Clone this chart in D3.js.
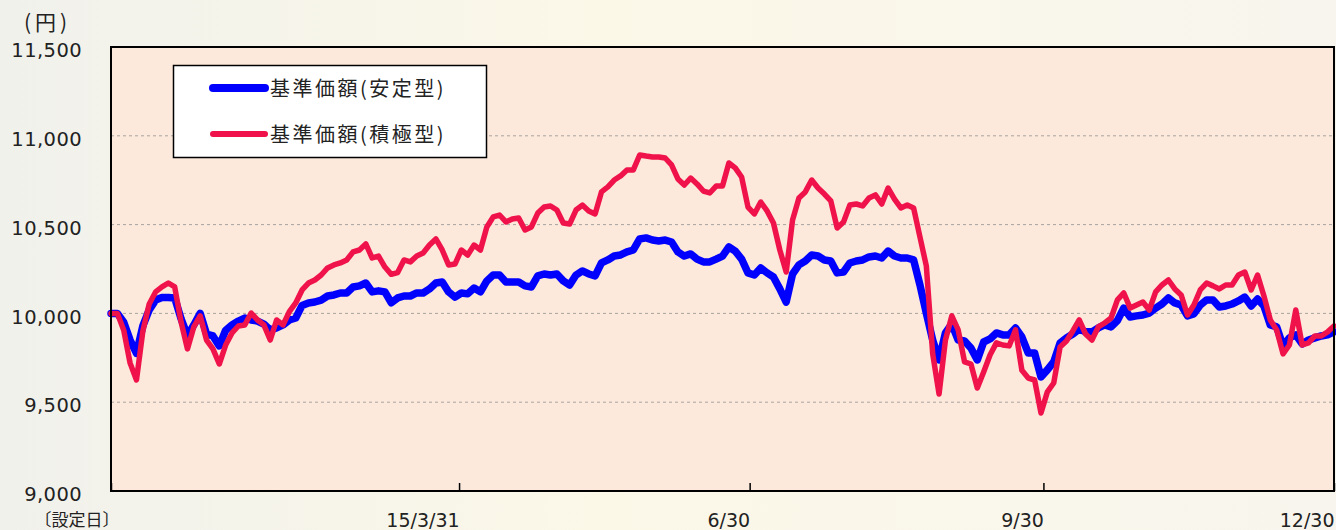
<!DOCTYPE html>
<html><head><meta charset="utf-8">
<script src="https://cdn.jsdelivr.net/npm/d3@7"></script>
<style>
html,body{margin:0;padding:0;}
body{width:1336px;height:530px;overflow:hidden;}
</style></head>
<body>
<svg id="chart" width="1336" height="530"></svg>
<script>
const seriesNames = ["基準価額(安定型)", "基準価額(積極型)"];
const seriesColors = ["#0000ff", "#f0124a"];
const startDate = "2014-12-12";
const endDate = "2015-12-30";
const xTickDates = ["2014-12-12", "2015-03-31", "2015-06-30", "2015-09-30", "2015-12-30"];
const xTickLabels = ["〔設定日〕", "15/3/31", "6/30", "9/30", "12/30"];
const yTicks = [9000, 9500, 10000, 10500, 11000, 11500];
const yGrid = [9500, 10000, 10500, 11000];
const unitLabel = "(円)";

// NAV of the stable fund, sampled roughly every 2 days from the setup date
const stableValues = [
10000,10000,9950,9850,9775,9930,10020,10075,10090,10090,
10087,9970,9875,9935,10000,9884,9873,9817,9905,9935,
9957,9974,9963,9957,9940,9907,9918,9935,9963,9974,
10045,10059,10064,10075,10098,10104,10115,10115,10149,10155,
10171,10121,10127,10121,10060,10087,10098,10098,10115,10115,
10138,10171,10177,10121,10092,10115,10110,10143,10121,10183,
10216,10216,10177,10177,10177,10155,10149,10211,10222,10216,
10222,10183,10160,10216,10239,10222,10211,10284,10301,10323,
10329,10346,10357,10419,10425,10413,10408,10413,10402,10346,
10323,10335,10306,10290,10290,10306,10323,10374,10351,10306,
10228,10216,10256,10228,10205,10138,10064,10222,10273,10295,
10329,10323,10301,10295,10228,10233,10284,10295,10301,10318,
10323,10312,10351,10323,10312,10312,10301,10160,10002,9850,
9738,9890,9940,9850,9845,9805,9738,9839,9856,9890,
9879,9879,9918,9867,9777,9777,9642,9682,9727,9834,
9862,9884,9912,9896,9896,9918,9935,9924,9960,10030,
9980,9986,9991,10002,10030,10053,10087,10059,10047,9986,
9997,10047,10076,10076,10036,10042,10053,10070,10092,10042,
10081,10042,9935,9924,9817,9862,9879,9828,9850,9862,
9873,9879,9896
];

// NAV of the aggressive fund, same sampling
const activeValues = [
10000,10000,9905,9720,9625,9900,10053,10121,10149,10171,
10149,9952,9800,9924,9986,9850,9800,9715,9822,9890,
9929,9935,10002,9963,9935,9850,9963,9935,10010,10059,
10132,10171,10188,10216,10256,10273,10284,10301,10346,10357,
10391,10312,10323,10261,10220,10230,10301,10290,10323,10340,
10385,10419,10357,10273,10278,10357,10329,10385,10357,10487,
10543,10554,10515,10532,10537,10470,10487,10565,10599,10605,
10582,10509,10503,10582,10610,10577,10560,10684,10712,10751,
10774,10808,10808,10892,10886,10881,10881,10875,10836,10757,
10723,10762,10729,10689,10678,10717,10717,10847,10819,10768,
10599,10560,10627,10577,10509,10357,10233,10526,10650,10684,
10751,10706,10672,10633,10481,10515,10610,10616,10605,10650,
10667,10616,10706,10644,10594,10610,10594,10430,10267,9772,
9546,9850,9986,9907,9727,9715,9580,9670,9766,9834,
9822,9817,9907,9680,9636,9625,9439,9558,9608,9811,
9845,9901,9963,9884,9850,9924,9946,9974,10076,10115,
10030,10047,10064,10019,10121,10160,10188,10138,10104,9991,
10047,10132,10171,10155,10138,10160,10160,10216,10233,10132,
10216,10098,9963,9907,9772,9822,10019,9822,9834,9873,
9873,9896,9929
];

const parse = d3.timeParse("%Y-%m-%d");
const t0 = parse(startDate), t1 = parse(endDate);
const sampleDates = stableValues.map((_, i) => new Date(+t0 + (t1 - t0) * i / (stableValues.length - 1)));

const L = 111, R = 1334, T = 47, B = 491;
const svg = d3.select("#chart");

// page background
const defs = svg.append("defs");
const bg = defs.append("linearGradient").attr("id", "bg").attr("x1", "0").attr("x2", "1").attr("y1", "0").attr("y2", "0");
bg.append("stop").attr("offset", "0%").attr("stop-color", "#f1f1ec");
bg.append("stop").attr("offset", "45%").attr("stop-color", "#fbf8e8");
bg.append("stop").attr("offset", "100%").attr("stop-color", "#f8f5ee");
svg.append("rect").attr("width", 1336).attr("height", 530).attr("fill", "url(#bg)");

const x = d3.scaleTime().domain([t0, t1]).range([L, R]);
const y = d3.scaleLinear().domain([9000, 11500]).range([B, T]);

// plot area
svg.append("rect").attr("x", L).attr("y", T).attr("width", R - L).attr("height", B - T)
  .attr("fill", "#fce9db");

// grid
svg.append("g").selectAll("line").data(yGrid).join("line")
  .attr("x1", L).attr("x2", R).attr("y1", d => y(d)).attr("y2", d => y(d))
  .attr("stroke", "#a8a4a0").attr("stroke-width", 1).attr("stroke-dasharray", "3,3");

// y axis labels
const yAxis = d3.axisLeft(y).tickValues(yTicks).tickSize(0).tickPadding(29).tickFormat(d3.format(","));
const gy = svg.append("g").attr("transform", `translate(${L},0)`).call(yAxis);
gy.select(".domain").remove();
gy.selectAll("text").attr("font-family", "'DejaVu Sans', Verdana, sans-serif").attr("font-size", 19.5)
  .attr("fill", "#222").attr("dy", "0.5em").attr("letter-spacing", "0.4px");

// x axis
const xAxis = d3.axisBottom(x).tickValues(xTickDates.map(parse)).tickSize(-8).tickPadding(23)
  .tickFormat((d, i) => xTickLabels[i]);
const gx = svg.append("g").attr("transform", `translate(0,${B})`).call(xAxis);
gx.select(".domain").remove();
gx.selectAll(".tick line").attr("stroke", "#000").attr("stroke-width", 1.5);
gx.selectAll("text").attr("text-anchor", "end").attr("fill", "#222")
  .attr("font-family", (d, i) => i === 0 ? "'Noto Sans CJK JP', sans-serif" : "'DejaVu Sans', Verdana, sans-serif")
  .attr("font-size", (d, i) => i === 0 ? 17 : 19)
  .attr("dx", (d, i) => i === 0 ? 8 : 0);

// unit label
svg.append("text").attr("x", 24).attr("y", 30).text(unitLabel)
  .attr("font-family", "'Noto Sans CJK JP', sans-serif").attr("font-size", 21)
  .attr("letter-spacing", "4px").attr("fill", "#222");

// lines
const seriesData = [stableValues, activeValues];
const widths = [7.5, 5.5];
const line = d3.line().x((d, i) => x(sampleDates[i])).y(d => y(d));
seriesData.forEach((vals, k) => {
  svg.append("path").datum(vals).attr("d", line)
    .attr("fill", "none").attr("stroke", seriesColors[k]).attr("stroke-width", widths[k])
    .attr("stroke-linejoin", "round").attr("stroke-linecap", "round");
});

// frame
svg.append("rect").attr("x", L).attr("y", T).attr("width", R - L).attr("height", B - T)
  .attr("fill", "none").attr("stroke", "#000").attr("stroke-width", 2);

// legend
const lg = svg.append("g");
lg.append("rect").attr("x", 173.5).attr("y", 65.5).attr("width", 313).attr("height", 92)
  .attr("fill", "#fff").attr("stroke", "#000").attr("stroke-width", 1.5);
seriesNames.forEach((name, k) => {
  const yy = 88 + k * 46;
  lg.append("line").attr("x1", 213).attr("x2", 265).attr("y1", yy).attr("y2", yy)
    .attr("stroke", seriesColors[k]).attr("stroke-width", k === 0 ? 8 : 6).attr("stroke-linecap", "round");
  lg.append("text").attr("x", 270).attr("y", yy + 8).text(name)
    .attr("font-family", "'Noto Sans CJK JP', sans-serif").attr("font-size", 20)
    .attr("letter-spacing", "2.5px").attr("fill", "#222");
});
</script>
</body></html>
